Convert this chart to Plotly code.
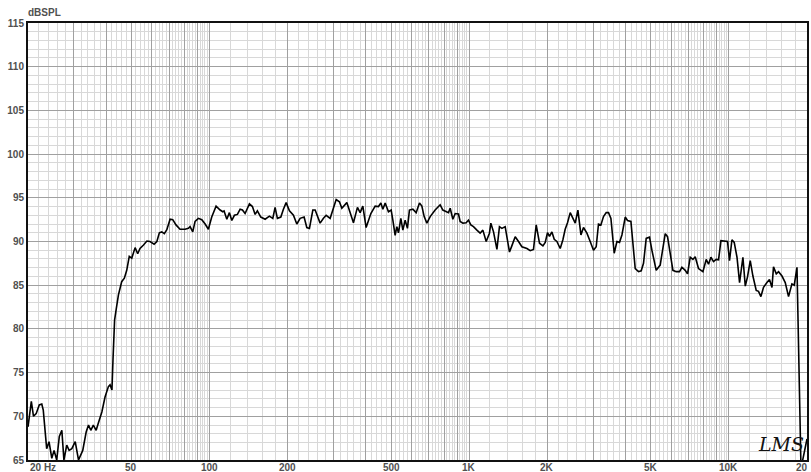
import math
import plotly.graph_objects as go

# ---- data ----
freq_hz = [
    20.0, 20.6, 21.0, 21.5, 22.1, 22.6, 22.9, 23.6, 24.1, 24.7, 25.2, 25.8, 26.4, 27.0, 27.5,
    28.2, 28.8, 29.5, 30.4, 31.3, 32.5, 33.5, 34.2, 34.9, 35.7, 36.6, 37.3, 38.5, 39.6, 40.8,
    41.4, 42.1, 42.5, 43.1, 43.7, 44.6, 45.9, 47.0, 48.0, 49.1, 50.2, 51.7, 52.9, 54.0, 55.7,
    57.4, 59.0, 61.2, 62.7, 64.1, 65.5, 67.0, 68.5, 70.5, 72.2, 74.3, 77.0, 80.5, 82.9, 84.2,
    86.2, 88.0, 90.6, 93.4, 96.2, 99.0, 102.0, 106.0, 109.9, 112.5, 113.8, 116.6, 119.3, 121.9,
    124.7, 128.1, 131.2, 133.9, 137.1, 142.5, 146.3, 149.9, 152.9, 157.6, 163.8, 170.1, 175.3,
    178.9, 182.6, 188.2, 192.6, 197.3, 203.2, 210.5, 216.9, 223.4, 231.4, 237.0, 242.6, 250.0,
    255.2, 266.7, 274.7, 281.4, 291.5, 298.6, 307.5, 316.5, 323.3, 338.0, 348.0, 358.4, 371.3,
    380.3, 389.5, 401.1, 418.2, 434.5, 447.4, 457.1, 465.2, 474.8, 488.9, 500.7, 508.3, 518.7,
    526.7, 534.2, 545.7, 555.4, 566.9, 578.5, 588.8, 606.9, 624.9, 643.6, 657.4, 671.0, 687.3,
    707.7, 739.6, 773.2, 791.9, 808.1, 832.3, 845.0, 865.4, 883.4, 909.6, 923.2, 945.6, 973.7,
    993.8, 1015, 1039, 1071, 1102, 1129, 1163, 1197, 1212, 1241, 1279, 1308, 1337, 1376, 1404,
    1430, 1460, 1504, 1549, 1596, 1669, 1718, 1769, 1812, 1866, 1923, 1963, 2003, 2039, 2083,
    2126, 2177, 2242, 2296, 2343, 2392, 2450, 2509, 2561, 2623, 2694, 2756, 2841, 2925, 3012,
    3085, 3148, 3216, 3291, 3371, 3441, 3515, 3619, 3707, 3793, 3875, 3990, 4072, 4197, 4360,
    4489, 4598, 4692, 4806, 4949, 5056, 5252, 5441, 5573, 5689, 5806, 5947, 6091, 6272, 6458,
    6597, 6792, 6933, 7101, 7273, 7422, 7642, 7947, 8183, 8351, 8531, 8730, 8942, 9127, 9322,
    9685, 9885, 10060, 10280, 10490, 10750, 11000, 11330, 11570, 11800, 12090, 12380, 12750,
    13010, 13290, 13600, 14020, 14340, 14660, 14860, 15230, 15540, 16020, 16490, 16980, 17500,
    17860, 18300, 18950, 19100, 20000,
]
spl_db = [
    68.8, 71.7, 70.0, 70.3, 71.3, 71.4, 70.7, 66.3, 67.1, 65.2, 66.1, 65.0, 67.7, 68.4, 65.0,
    66.7, 66.1, 66.3, 67.1, 65.0, 66.1, 68.2, 69.0, 68.4, 69.0, 68.4, 69.2, 70.5, 72.2, 73.4,
    73.6, 73.0, 76.5, 81.0, 82.2, 83.9, 85.4, 85.8, 86.7, 88.3, 88.1, 89.3, 88.6, 89.2, 89.6,
    90.05, 90.0, 89.7, 90.0, 91.0, 91.1, 90.9, 91.35, 92.55, 92.5, 91.9, 91.4, 91.4, 91.5, 91.7,
    91.1, 92.3, 92.65, 92.5, 92.0, 91.4, 92.8, 94.05, 93.6, 93.4, 93.5, 92.55, 93.3, 92.4,
    93.0, 93.1, 93.7, 93.6, 93.2, 94.3, 94.0, 93.1, 93.5, 92.8, 92.55, 92.9, 92.65,
    93.9, 92.65, 92.8, 93.7, 94.45, 93.5, 93.0, 92.0, 92.65, 92.8, 91.6, 91.5, 93.6,
    93.6, 92.1, 92.65, 93.0, 92.65, 93.6, 94.8, 94.55, 93.8, 94.45, 93.4, 92.15, 93.9,
    93.3, 94.05, 91.6, 93.2, 94.05, 94.0, 94.4, 93.7, 94.4, 93.4, 93.6, 92.45, 90.7,
    91.7, 91.0, 92.65, 91.3, 92.45, 91.5, 93.6, 93.7, 93.3, 94.4, 94.05, 92.85, 92.1,
    92.85, 93.6, 94.2, 93.6, 93.5, 93.3, 93.8, 92.55, 93.2, 93.15, 92.3, 92.1, 92.15,
    92.45, 91.9, 91.7, 91.3, 90.95, 91.3, 90.0, 90.95, 92.1, 91.1, 89.1, 91.7, 91.5, 91.7, 90.35,
    88.8, 89.5, 90.55, 90.0, 89.4, 89.2, 88.95, 89.1, 91.9, 89.8, 89.5, 89.9, 91.0, 90.6, 91.1,
    90.25, 90.0, 89.2, 90.2, 91.4, 92.15, 93.3, 92.65, 92.1, 93.6, 90.75, 91.6, 90.95, 90.0, 89.0,
    89.4, 92.0, 91.9, 92.85, 93.3, 93.3, 92.65, 88.65, 90.0, 89.9, 90.75, 92.8, 92.4, 92.3, 86.9,
    86.55, 86.65, 87.5, 90.35, 90.5, 89.0, 86.7, 87.3, 89.2, 90.9, 90.55, 88.45, 86.7, 86.55, 86.55,
    87.05, 86.7, 86.3, 88.2, 87.95, 88.25, 86.9, 86.55, 87.95, 87.4, 88.2, 87.7, 87.95, 87.9, 90.1,
    90.0, 90.0, 87.8, 90.2, 89.9, 88.2, 85.3, 88.2, 84.9, 85.95, 87.8, 86.05, 84.4,
    84.3, 83.7, 84.75, 85.3, 85.65, 84.75, 87.1, 86.3, 86.55, 86.05, 85.3, 83.7, 85.15,
    85.0, 87.05, 64.5, 64.5, 67.4,
]

# tick labels
x_label_vals = [20, 50, 100, 200, 500, 1000, 2000, 5000, 10000, 20000]
x_label_text = ["20 Hz", "50", "100", "200", "500", "1K", "2K", "5K", "10K", "20"]
y_tick_vals = [65, 70, 75, 80, 85, 90, 95, 100, 105, 110, 115]

# grid structure: major lines at each integer multiple in a decade, minor every 0.2 step
major_x = []
minor_x = []
for base in (10, 100, 1000, 10000):
    for k in range(10, 100):
        v = base * k / 10.0
        if v < 20 or v > 20000:
            continue
        if k % 10 == 0:
            major_x.append(v)
        elif k % 2 == 0:
            minor_x.append(v)
major_x.append(20000)

fig = go.Figure()
fig.add_trace(go.Scatter(
    x=freq_hz, y=spl_db, mode="lines",
    line=dict(color="#000000", width=1.6),
    hoverinfo="skip", showlegend=False,
))

label_font = dict(family="Liberation Sans, Arial, sans-serif", size=10, color="#505050")

fig.update_layout(
    width=811, height=472,
    margin=dict(l=28, r=4, t=23, b=12, autoexpand=False),
    paper_bgcolor="white", plot_bgcolor="white",
    showlegend=False,
    xaxis=dict(
        type="log", automargin=False,
        range=[math.log10(20), math.log10(20000)],
        tickmode="array", tickvals=major_x, ticktext=[""] * len(major_x),
        showgrid=True, gridcolor="#a0a0a0", gridwidth=1,
        minor=dict(tickmode="array", tickvals=minor_x, showgrid=True,
                   gridcolor="#d8d8d8", gridwidth=1, ticks=""),
        showline=True, linecolor="#111111", linewidth=2, mirror=True,
        ticks="", zeroline=False, fixedrange=True,
    ),
    yaxis=dict(
        range=[65, 115], automargin=False,
        tickmode="array", tickvals=y_tick_vals,
        ticktext=[str(v) for v in y_tick_vals],
        showgrid=True, gridcolor="#a0a0a0", gridwidth=1,
        minor=dict(dtick=1, showgrid=True, gridcolor="#d8d8d8", gridwidth=1, ticks=""),
        showline=True, linecolor="#111111", linewidth=2, mirror=True,
        ticks="", zeroline=False, fixedrange=True,
    ),
)

annotations = []
for v, t in zip(x_label_vals, x_label_text):
    if t.endswith("Hz"):
        anchor, shift = "left", 0
    elif v == x_label_vals[-1]:
        anchor, shift = "right", 3
    else:
        anchor, shift = "center", 0
    annotations.append(dict(
        x=math.log10(v), xref="x", y=0, yref="paper",
        text="<b>%s</b>" % t, showarrow=False, xanchor=anchor, yanchor="top",
        yshift=0, xshift=shift, font=label_font,
    ))
annotations.append(dict(
    x=0, xref="paper", y=1, yref="paper", text="<b>dBSPL</b>", showarrow=False,
    xanchor="left", yanchor="bottom", yshift=3, xshift=-2, font=label_font,
))
annotations.append(dict(
    x=0.966, xref="paper", y=0.037, yref="paper", text="<i>LMS</i>", showarrow=False,
    xanchor="center", yanchor="middle",
    font=dict(family="DejaVu Serif, serif", size=19, color="#111111"),
))
fig.update_layout(annotations=annotations)
fig.update_yaxes(tickfont=dict(family="Liberation Sans, Arial, sans-serif", size=10,
                               color="#505050", weight="bold"))

# remove the page's default body margin so the 811x472 figure fills the window exactly
fig.write_html(
    "out.html",
    config={"displayModeBar": False, "staticPlot": True},
    post_script="document.body.style.margin='0';document.body.style.overflow='hidden';"
                "document.documentElement.style.overflow='hidden';",
)
